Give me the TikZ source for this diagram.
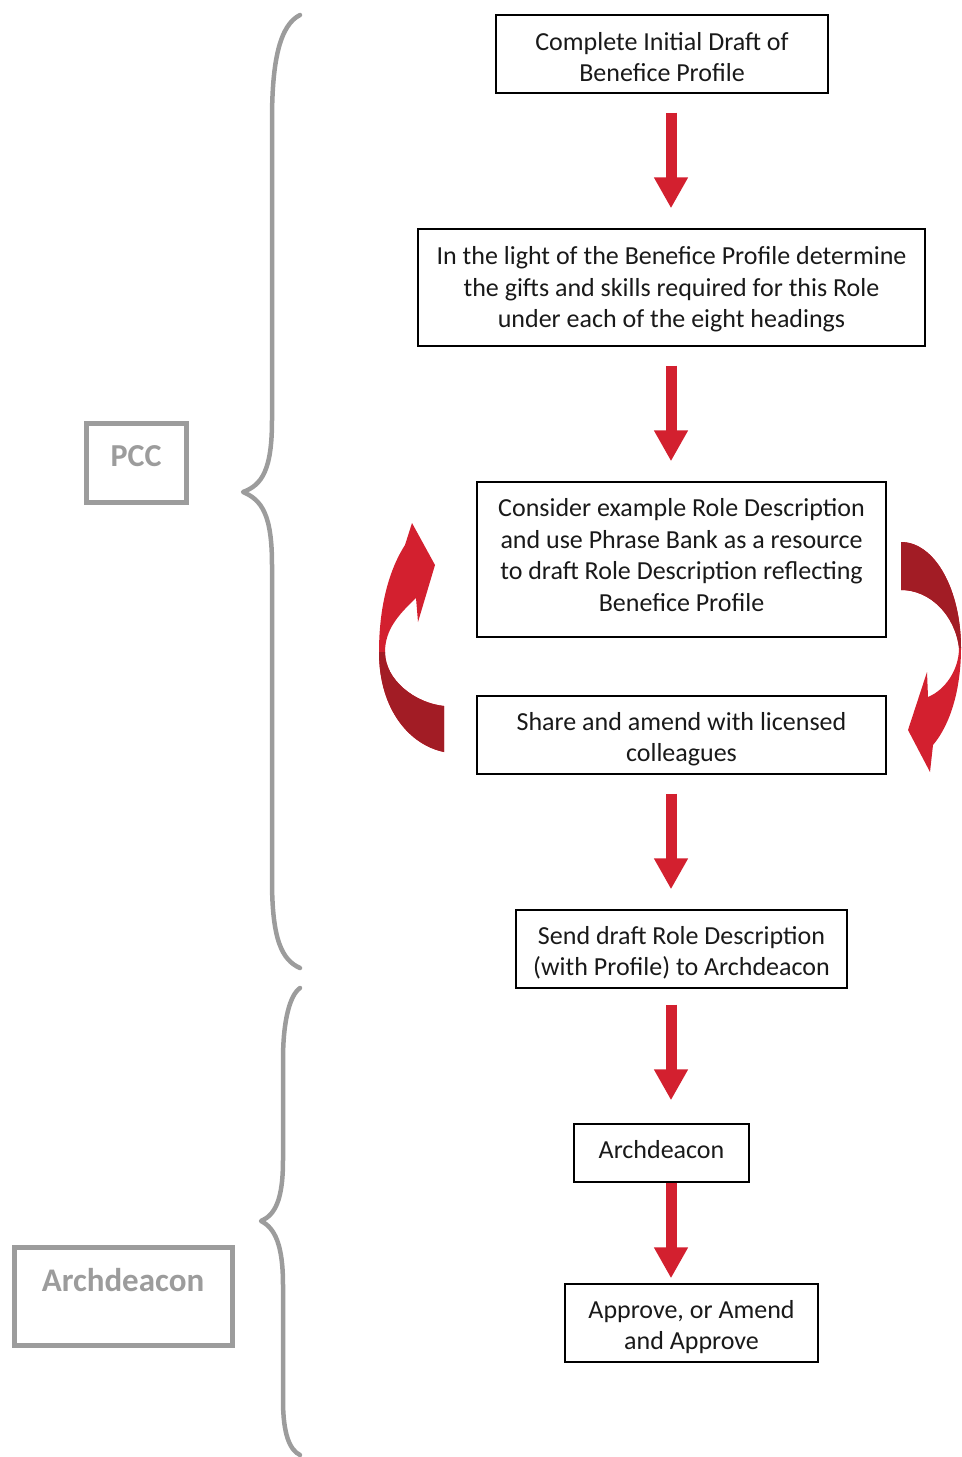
\documentclass[tikz,border=0pt]{standalone}
\usepackage{fontspec}
\setmainfont{Carlito}
\usetikzlibrary{arrows.meta,calc}
\definecolor{arrred}{HTML}{D3202F}
\definecolor{arrdark}{HTML}{A21C25}
\definecolor{bracegray}{HTML}{9C9C9C}
\begin{document}
\begin{tikzpicture}[x=1bp,y=-1bp,
  stepbox/.style={draw=black, line width=1.4bp, align=center, inner sep=0pt,
    font=\fontsize{26bp}{31.5bp}\selectfont, text=black!90},
  bigarrow/.style={draw=arrred, line width=11bp, -{Triangle[length=31bp,width=32bp]}},
  bracestyle/.style={draw=bracegray, line width=4.5bp, line cap=round, line join=round},
  labelbox/.style={draw=bracegray, line width=5bp, inner sep=0pt},
  labeltext/.style={font=\fontsize{32bp}{36bp}\selectfont\bfseries, text=bracegray}]
\useasboundingbox (0,0) rectangle (961,1457);
% boxes
\node[stepbox, minimum width=332bp, minimum height=78bp] (b1) at (662,54) {\rule{0pt}{24bp}Complete Initial Draft of\\Benefice Profile};
\node[stepbox, minimum width=507bp, minimum height=117bp] (b2) at (671.5,287.5) {\rule{0pt}{22bp}In the light of the Benefice Profile determine\\the gifts and skills required for this Role\\under each of the eight headings};
\node[stepbox, minimum width=409bp, minimum height=155bp] (b3) at (681.5,559.5) {Consider example Role Description\\and use Phrase Bank as a resource\\to draft Role Description reflecting\\Benefice Profile\rule[-9bp]{0pt}{1bp}};
\node[stepbox, minimum width=409bp, minimum height=78bp] (b4) at (681.5,735) {\rule{0pt}{26bp}Share and amend with licensed\\colleagues};
\node[stepbox, minimum width=331bp, minimum height=78bp] (b5) at (681.5,949) {\rule{0pt}{26bp}Send draft Role Description\\(with Profile) to Archdeacon};
\node[stepbox, minimum width=175bp, minimum height=58bp] (b6) at (661.5,1153) {Archdeacon\rule[-7bp]{0pt}{1bp}};
\node[stepbox, minimum width=253bp, minimum height=78bp] (b7) at (691.5,1323) {\rule{0pt}{26bp}Approve, or Amend\\and Approve};
% straight arrows
\coordinate (ax) at (671,0);
\draw[bigarrow, shorten <=19bp, shorten >=20bp] (b1.south -| ax) -- (b2.north -| ax);
\draw[bigarrow, shorten <=19bp, shorten >=20bp] (b2.south -| ax) -- (b3.north -| ax);
\draw[bigarrow, shorten <=19bp, shorten >=20bp] (b4.south -| ax) -- (b5.north -| ax);
\draw[bigarrow, shorten <=16bp, shorten >=23bp] (b5.south -| ax) -- (b6.north -| ax);
\draw[bigarrow, shorten <=0bp, shorten >=5bp] (b6.south -| ax) -- (b7.north -| ax);
% left curved arrow
\fill[arrred] (444,752) .. controls (410,745) and (379,710) .. (379,652)
  .. controls (379,600) and (392,565) .. (405,545) -- (412,523) -- (435,565) -- (418,622) -- (416,598)
  .. controls (398,615) and (385,630) .. (385,652)
  .. controls (385,680) and (415,703) .. (444,706) -- cycle;
\fill[arrdark] (379,652) .. controls (379,710) and (410,745) .. (444,752) -- (444,706)
  .. controls (415,703) and (385,680) .. (385,652) -- cycle;
% right curved arrow
\fill[arrred] (901,542) .. controls (935,542) and (961,590) .. (961,648)
  .. controls (961,690) and (950,725) .. (933,745) -- (930,772) -- (908,730) -- (927,672) -- (928,697)
  .. controls (945,690) and (959,670) .. (959,648)
  .. controls (955,615) and (930,590) .. (901,590) -- cycle;
\fill[arrdark] (901,542) .. controls (935,542) and (961,590) .. (961,648) -- (959,648)
  .. controls (955,615) and (930,590) .. (901,590) -- cycle;
% braces
\draw[bracestyle] (300,15) .. controls (280,25) and (272,60) .. (272,120) -- (272,420)
  .. controls (272,470) and (262,485) .. (243,492)
  .. controls (262,500) and (272,515) .. (272,565) -- (272,880)
  .. controls (272,940) and (282,960) .. (300,968);
\draw[bracestyle] (300,988) .. controls (290,995) and (283,1020) .. (283,1060) -- (283,1160)
  .. controls (283,1200) and (275,1215) .. (261,1221)
  .. controls (275,1228) and (283,1245) .. (283,1285) -- (283,1400)
  .. controls (283,1435) and (290,1450) .. (300,1455);
% label boxes
\node[labelbox, minimum width=100bp, minimum height=79bp] (pccbox) at (136,462.5) {};
\node[labeltext] (pcc) at (136,456) {PCC};
\node[labelbox, minimum width=217bp, minimum height=98bp] (archbox) at (123.5,1296) {};
\node[labeltext, font=\fontsize{33bp}{38bp}\selectfont\bfseries] (arch) at (123,1280) {Archdeacon};
\end{tikzpicture}
\end{document}
